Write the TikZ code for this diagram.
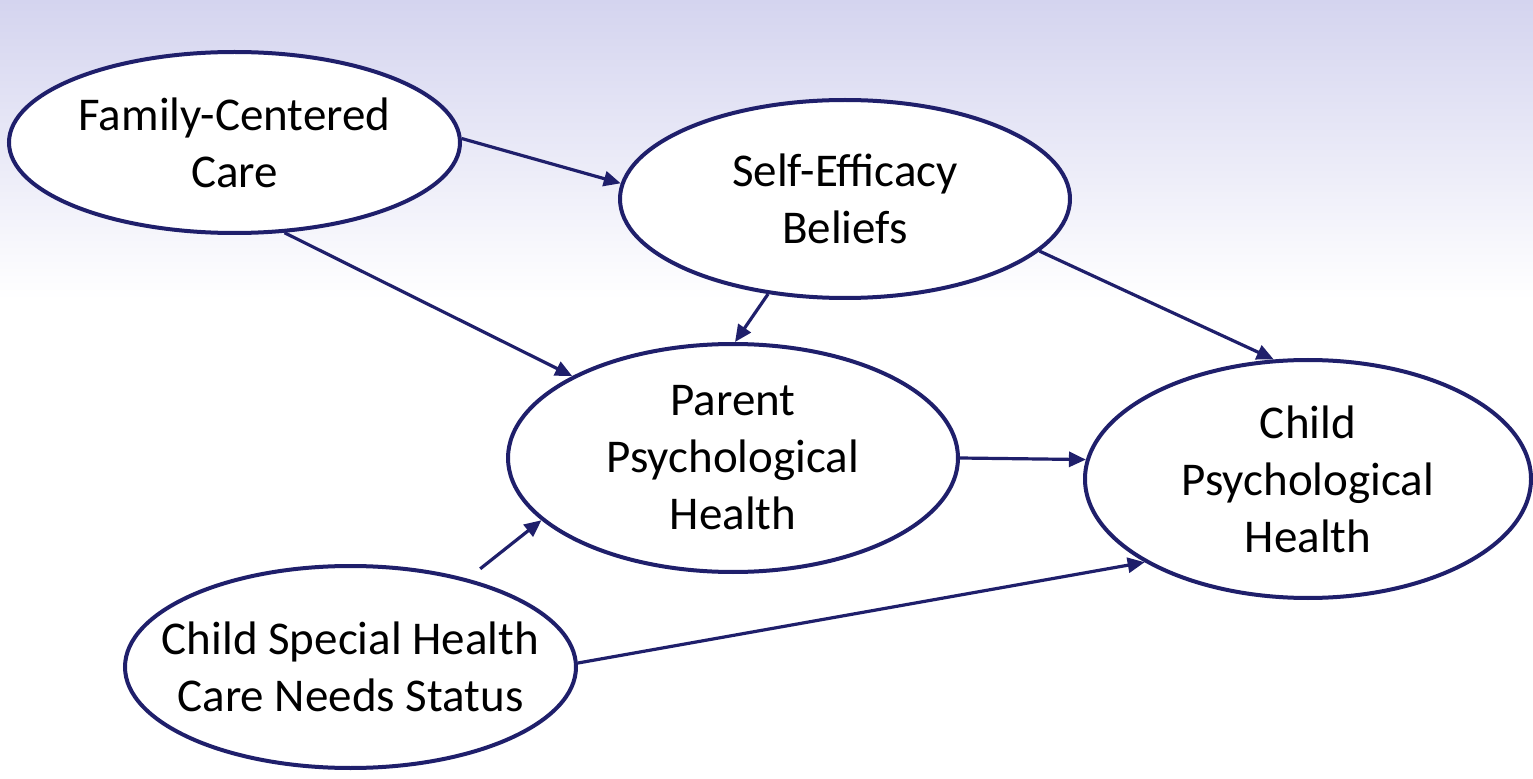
\documentclass[tikz,border=0pt]{standalone}
\usepackage{fontspec}
\setmainfont{Carlito}
\usetikzlibrary{shapes.geometric,arrows.meta}
\definecolor{navy}{HTML}{1F1F6B}
\definecolor{bgtop}{HTML}{D4D4EF}
\begin{document}
\begin{tikzpicture}[x=0.5pt,y=0.5pt,
 ell/.style={ellipse,draw=navy,line width=2pt,fill=white,inner sep=0pt},
 lab/.style={font=\fontsize{23.5}{28.5}\selectfont,align=center,text=black},
 conn/.style={-{Triangle[length=8.5pt,width=7.5pt]},draw=navy,line width=1.6pt}]
\useasboundingbox (0,0) rectangle (1533,778);
\fill[white] (0,0) rectangle (1533,778);
\shade[top color=bgtop,bottom color=white] (0,478) rectangle (1533,778);

\node[ell,minimum width=225.5pt,minimum height=90.5pt,label={[lab]center:{Family-Centered\\Care}}] (fcc) at (234.5,635.5) {};
\node[ell,minimum width=225pt,minimum height=99pt,label={[lab]center:{Self-Efficacy\\Beliefs}}] (seb) at (845,579) {};
\node[ell,minimum width=225pt,minimum height=114pt,label={[lab]center:{Parent\\Psychological\\Health}}] (pph) at (733,320) {};
\node[ell,minimum width=223pt,minimum height=119pt,label={[lab]center:{Child\\Psychological\\Health}}] (cph) at (1308,299) {};
\node[ell,minimum width=225.5pt,minimum height=101pt,label={[lab]center:{Child Special Health\\Care Needs Status}}] (csh) at (350.5,111) {};

\draw[conn] (fcc.1) -- (seb.176);
\draw[conn] (fcc.-61) -- (pph.153);
\draw[conn] (seb.-129) -- (pph.89);
\draw[conn] (pph.0) -- (cph.175);
\draw[conn] (seb.-15) -- (cph.106);
\draw[conn,shorten <=8pt] (csh.37) -- (pph.198);
\draw[conn] (csh.1) -- (cph.207);
\end{tikzpicture}
\end{document}
